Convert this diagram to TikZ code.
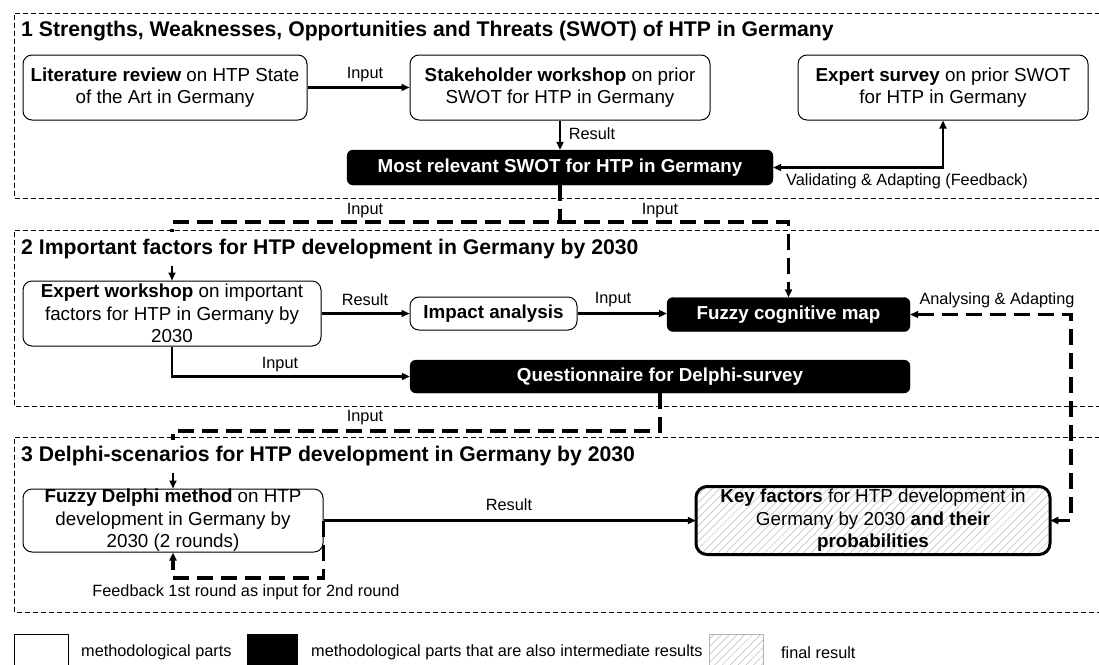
\documentclass[tikz,border=0pt]{standalone}
\usepackage{fontspec}
\setmainfont{Liberation Sans}
\usetikzlibrary{arrows.meta,patterns.meta}
\begin{document}
\begin{tikzpicture}[x=1pt,y=-1pt,
  wbox/.style={draw,rounded corners=9pt,line width=1pt,align=center,fill=white,
               font=\fontsize{18.8}{22.5}\selectfont,inner sep=0pt},
  bbox/.style={draw,fill=black,text=white,rounded corners=6pt,align=center,
               font=\fontsize{18.8}{22.5}\selectfont\bfseries,inner sep=0pt},
  fbox/.style={draw,line width=3pt,rounded corners=11pt,align=center,
               preaction={fill=white},
               pattern={Lines[angle=45,distance=5.5pt,line width=0.5pt]},pattern color=gray!55,
               font=\fontsize{18.8}{22.5}\selectfont,inner sep=0pt},
  ttl/.style={anchor=west,font=\fontsize{21.2}{24}\selectfont\bfseries,inner sep=2pt},
  lbl/.style={font=\fontsize{16.3}{19}\selectfont,inner sep=1pt},
  sec/.style={line width=1pt,dash pattern=on 5pt off 3pt},
  arr/.style={-{Triangle[length=8pt,width=7pt]},line width=2.3pt},
  arrb/.style={{Triangle[length=8pt,width=7pt]}-{Triangle[length=8pt,width=7pt]},line width=2.3pt},
  dshl/.style={line width=3.3pt,dash pattern=on 16pt off 8pt},
  dsh/.style={-{Triangle[length=8pt,width=7pt]},line width=3.3pt,dash pattern=on 16pt off 8pt},
  dshb/.style={{Triangle[length=8pt,width=7pt]}-{Triangle[length=8pt,width=7pt]},line width=3.3pt,dash pattern=on 16pt off 8pt},
]
\useasboundingbox (0,0) rectangle (1099,664);

% section borders
\draw[sec] (1100,13) -- (14,13) -- (14,198) -- (1100,198);
\draw[sec] (1100,230) -- (14,230) -- (14,406) -- (1100,406);
\draw[sec] (1100,437) -- (14,437) -- (14,612) -- (1100,612);

% section 1 boxes
\node[wbox,minimum width=284pt,minimum height=65pt] (lit) at (165,87.5)
  {\textbf{Literature review} on HTP State\\of the Art in Germany};
\node[wbox,minimum width=300pt,minimum height=65pt] (stake) at (560,87.5)
  {\textbf{Stakeholder workshop} on prior\\SWOT for HTP in Germany};
\node[wbox,minimum width=290pt,minimum height=65pt] (survey) at (943,87.5)
  {\textbf{Expert survey} on prior SWOT\\for HTP in Germany};
\node[bbox,minimum width=426pt,minimum height=35pt] (swot) at (560,167.5)
  {Most relevant SWOT for HTP in Germany};

% section 2 boxes
\node[wbox,minimum width=298pt,minimum height=65pt] (expert) at (172,313.5)
  {\textbf{Expert workshop} on important\\factors for HTP in Germany by\\2030};
\node[wbox,minimum width=167pt,minimum height=33pt] (impact) at (493.5,313.5)
  {\textbf{Impact analysis}};
\node[bbox,minimum width=243pt,minimum height=34pt] (fcm) at (788.5,314.5)
  {Fuzzy cognitive map};
\node[bbox,minimum width=500pt,minimum height=33pt] (quest) at (660,376.5)
  {Questionnaire for Delphi-survey};

% section 3 boxes
\node[wbox,minimum width=300pt,minimum height=63pt] (delphi) at (173,520.5)
  {\textbf{Fuzzy Delphi method} on HTP\\development in Germany by\\2030 (2 rounds)};
\node[fbox,minimum width=354pt,minimum height=68pt] (key) at (873,520.5)
  {\textbf{Key factors} for HTP development in\\Germany by 2030 \textbf{and their}\\\textbf{probabilities}};

% coordinates
\coordinate (j1) at (560,222);
\coordinate (c1) at (172,266);
\coordinate (j2) at (660,431);
\coordinate (c2) at (173,473);
\coordinate (r1) at (1071,314.5);
\coordinate (fb) at (173,578);

% connectors section 1
\draw[arr] (lit) -- (stake);
\draw[arr] (stake) -- (swot);
\draw[arrb] (swot.east) -| (survey.south);

% dashed inputs to section 2
\draw[dshl] (swot.south) -- (j1) -| (c1);
\draw[arr] (c1) -- (expert.north);
\draw[dsh] (j1) -| (fcm.north);

% connectors section 2
\draw[arr] (expert) -- (impact);
\draw[arr] (impact) -- (impact -| fcm.west);
\draw[arr] (expert.south) |- (quest.west);
\draw[dshl] (quest.south) -- (j2) -| (c2);
\draw[arr] (c2) -- (delphi.north);
\draw[dshb] (fcm.east) -- (r1) |- (key.east);

% connectors section 3
\draw[arr] (delphi.east) -- (key.west);
\draw[dsh] (delphi.east) |- (fb) -- (delphi.south);

% titles
\node[ttl] (t1) at (19,31) {1 Strengths, Weaknesses, Opportunities and Threats (SWOT) of HTP in Germany};
\node[ttl,fill=white,minimum height=34pt] (t2) at (19,249) {2 Important factors for HTP development in Germany by 2030};
\node[ttl,fill=white,minimum height=33pt] (t3) at (19,456) {3 Delphi-scenarios for HTP development in Germany by 2030};

% labels
\node[lbl] (l1) at (365,75) {Input};
\node[lbl] (l2) at (592,134) {Result};
\node[lbl] (l3) at (907,181) {Validating \& Adapting (Feedback)};
\node[lbl] (l4) at (365,211) {Input};
\node[lbl] (l5) at (660,211) {Input};
\node[lbl] (l6) at (365,300) {Result};
\node[lbl] (l7) at (613,300) {Input};
\node[lbl] (l8) at (997,300) {Analysing \& Adapting};
\node[lbl] (l9) at (280,365) {Input};
\node[lbl] (l10) at (365,418) {Input};
\node[lbl] (l11) at (509,505) {Result};
\node[lbl] (l12) at (246,592) {Feedback 1st round as input for 2nd round};

% legend
\draw[line width=1pt] (14,634) rectangle (68,666);
\node[lbl,anchor=west] (g1) at (80,652) {methodological parts};
\fill[black] (247,634) rectangle (298,666);
\node[lbl,anchor=west] (g2) at (310,652) {methodological parts that are also intermediate results};
\draw[gray!60,line width=1pt,pattern={Lines[angle=45,distance=5.5pt,line width=0.5pt]},pattern color=gray!55] (709,634) rectangle (763,666);
\node[lbl,anchor=west] (g3) at (780,653) {final result};
\end{tikzpicture}
\end{document}
